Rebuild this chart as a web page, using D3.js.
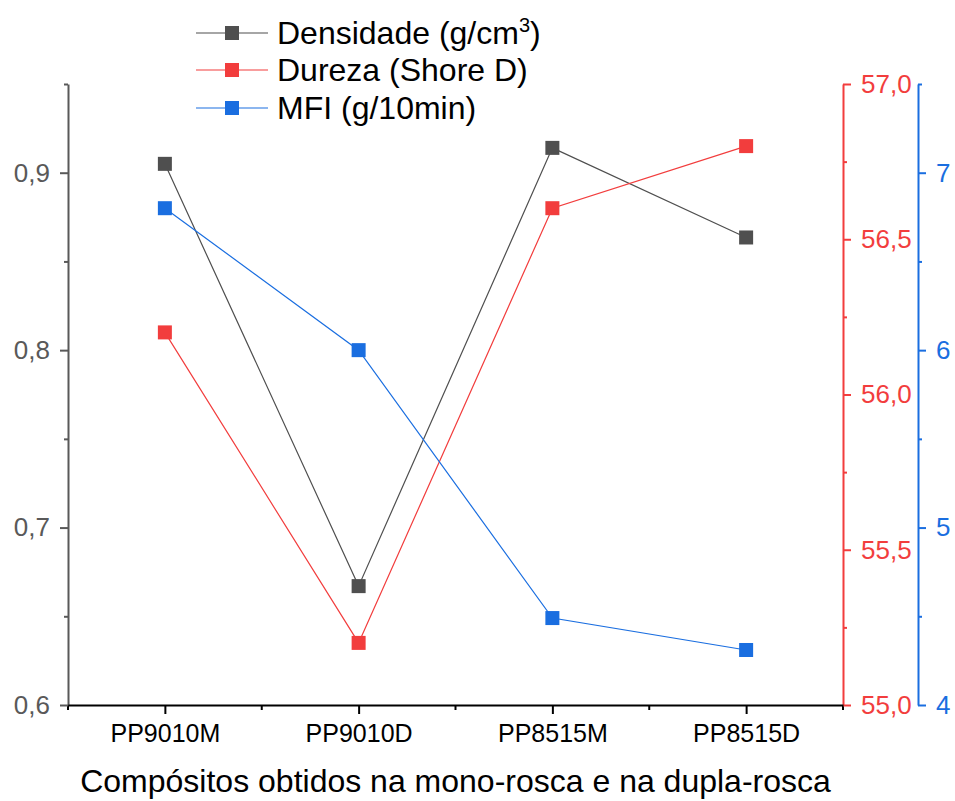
<!DOCTYPE html>
<html>
<head>
<meta charset="utf-8">
<title>Compósitos</title>
<script src="https://cdn.jsdelivr.net/npm/d3@7"></script>
<style>
body { margin: 0; background: #fff; }
text { font-family: Arial, "Liberation Sans", sans-serif; }
</style>
</head>
<body>
<script>
// data
var categories = ["PP9010M", "PP9010D", "PP8515M", "PP8515D"];
var densidade = [0.905, 0.667, 0.914, 0.8635];
var dureza = [56.2, 55.2, 56.6, 56.8];
var mfi = [6.8, 6.0, 4.49, 4.31];

var leftTicks = [0.6, 0.7, 0.8, 0.9];
var redTicks = [55.0, 55.5, 56.0, 56.5, 57.0];
var blueTicks = [4, 5, 6, 7];

var w = 955, h = 801;
var mLeft = 68, mRight = 843, mTop = 84, mBottom = 705;
var blueX = 918;

var cGray = "#4f4f4f", cRed = "#f23d3d", cBlue = "#1a6ee0";

var svg = d3.select("body").append("svg")
    .attr("width", w)
    .attr("height", h);

var x = d3.scalePoint().domain(categories).range([mLeft, mRight]).padding(0.5);
var yL = d3.scaleLinear().domain([0.6, 0.95]).range([mBottom, mTop]);
var yR = d3.scaleLinear().domain([55, 57]).range([mBottom, mTop]);
var yB = d3.scaleLinear().domain([4, 7.5]).range([mBottom, mTop]);

var comma = function(f) { return function(d) { return d3.format(f)(d).replace(".", ","); }; };

function styleAxis(g, color, size) {
    g.selectAll("path, line").attr("stroke", color).attr("stroke-width", 2);
    g.selectAll("text").attr("fill", color).attr("font-size", size);
    g.attr("font-family", null);
}

// minor ticks
function minor(scale, vals, axisFn, pos, color) {
    var g = svg.append("g").attr("transform", pos)
        .call(axisFn(scale).tickValues(vals).tickSize(4).tickFormat(""));
    g.select(".domain").remove();
    g.selectAll("line").attr("stroke", color).attr("stroke-width", 2);
}

minor(yL, [0.65, 0.75, 0.85, 0.95], d3.axisLeft, "translate(" + mLeft + ",0)", "#595959");
minor(yR, [55.25, 55.75, 56.25, 56.75], d3.axisRight, "translate(" + mRight + ",0)", cRed);
minor(yB, [4.5, 5.5, 6.5, 7.5], d3.axisRight, "translate(" + blueX + ",0)", cBlue);
var xMinor = [0, 1, 2, 3, 4].map(function(i) { return mLeft + i * (mRight - mLeft) / 4; });
svg.append("g").selectAll("line").data(xMinor).enter().append("line")
    .attr("x1", function(d) { return d; }).attr("x2", function(d) { return d; })
    .attr("y1", mBottom).attr("y2", mBottom + 5)
    .attr("stroke", "#000").attr("stroke-width", 2);

// axes
var gL = svg.append("g").attr("transform", "translate(" + mLeft + ",0)")
    .call(d3.axisLeft(yL).tickValues(leftTicks).tickSize(8).tickSizeOuter(0).tickPadding(10).tickFormat(comma(".1f")));
styleAxis(gL, "#595959", "26px");

var gR = svg.append("g").attr("transform", "translate(" + mRight + ",0)")
    .call(d3.axisRight(yR).tickValues(redTicks).tickSize(8).tickSizeOuter(0).tickPadding(10).tickFormat(comma(".1f")));
styleAxis(gR, cRed, "26px");

var gB = svg.append("g").attr("transform", "translate(" + blueX + ",0)")
    .call(d3.axisRight(yB).tickValues(blueTicks).tickSize(8).tickSizeOuter(0).tickPadding(10).tickFormat(d3.format("d")));
styleAxis(gB, cBlue, "26px");

var gX = svg.append("g").attr("transform", "translate(0," + mBottom + ")")
    .call(d3.axisBottom(x).tickSize(9).tickSizeOuter(0).tickPadding(10));
styleAxis(gX, "#000", "25px");

svg.append("text")
    .attr("x", (mLeft + mRight) / 2).attr("y", 792)
    .attr("text-anchor", "middle").attr("font-size", "32px").attr("fill", "#000")
    .text("Compósitos obtidos na mono-rosca e na dupla-rosca");

// series
var series = [
    { name: "dens", vals: densidade, y: yL, color: cGray },
    { name: "dur", vals: dureza, y: yR, color: cRed },
    { name: "mfi", vals: mfi, y: yB, color: cBlue }
];

series.forEach(function(s) {
    var line = d3.line()
        .x(function(d, i) { return x(categories[i]); })
        .y(function(d) { return s.y(d); });
    svg.append("path").datum(s.vals)
        .attr("d", line)
        .attr("fill", "none")
        .attr("stroke", s.color)
        .attr("stroke-width", 1.2);
    svg.selectAll(".m-" + s.name).data(s.vals).enter().append("rect")
        .attr("class", "m-" + s.name)
        .attr("x", function(d, i) { return x(categories[i]) - 7; })
        .attr("y", function(d) { return s.y(d) - 7; })
        .attr("width", 14).attr("height", 14)
        .attr("fill", s.color);
});

// legend
var legend = svg.append("g");
var rows = [
    { color: cGray, y: 33 },
    { color: cRed, y: 70 },
    { color: cBlue, y: 108 }
];
rows.forEach(function(r) {
    legend.append("line").attr("x1", 196).attr("x2", 268).attr("y1", r.y).attr("y2", r.y)
        .attr("stroke", r.color).attr("stroke-width", 1.2);
    legend.append("rect").attr("x", 225).attr("y", r.y - 7).attr("width", 14).attr("height", 14)
        .attr("fill", r.color);
});
var t1 = legend.append("text").attr("x", 277).attr("y", 44).attr("font-size", "32px").attr("fill", "#000");
t1.append("tspan").text("Densidade (g/cm");
t1.append("tspan").attr("font-size", "20px").attr("dy", -12).text("3");
t1.append("tspan").attr("dy", 12).text(")");
legend.append("text").attr("x", 277).attr("y", 81).attr("font-size", "32px").attr("fill", "#000")
    .text("Dureza (Shore D)");
legend.append("text").attr("x", 277).attr("y", 119).attr("font-size", "32px").attr("fill", "#000")
    .text("MFI (g/10min)");
</script>
</body>
</html>
